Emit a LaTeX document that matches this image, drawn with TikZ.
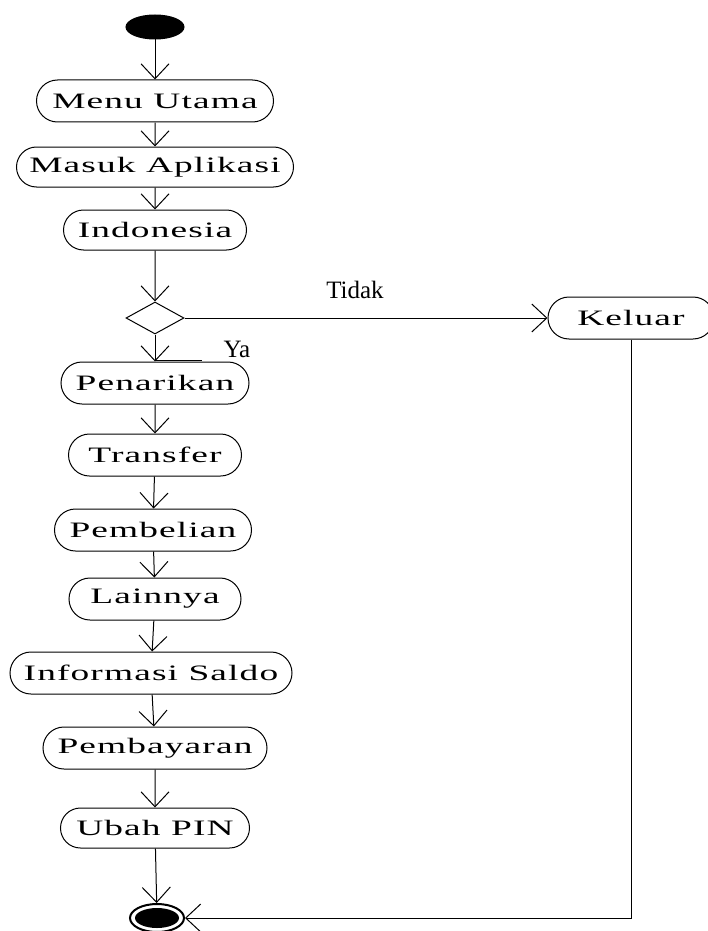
\documentclass[tikz,border=0pt]{standalone}
\usepackage{fontspec}
\setmainfont{Liberation Serif}
\newfontfamily\widefont[LetterSpace=3]{Liberation Serif}
\usetikzlibrary{shapes.misc,shapes.geometric,arrows.meta}
\newcommand\wt[1]{\scalebox{1.7}[1]{\widefont\fontsize{22}{26}\selectfont #1}}
\begin{document}
\begin{tikzpicture}[x=1pt,y=-1pt,
  line width=1pt,
  act/.style={draw, rounded rectangle, minimum height=42pt, inner sep=0pt},
  flow/.style={-{Straight Barb[length=15pt,width=28pt,line width=1pt]}},
  lbl/.style={font=\fontsize{25}{29}\selectfont, inner sep=0pt}]
\useasboundingbox (0,0) rectangle (708,931);
\node[draw, fill=black, ellipse, minimum width=58pt, minimum height=24pt, inner sep=0pt] (start) at (155,27) {};
\node[act, minimum width=237pt] (menu) at (155,101) {\wt{Menu Utama}};
\node[act, minimum width=277pt, minimum height=40pt] (masuk) at (155,167) {\wt{Masuk Aplikasi}};
\node[act, minimum width=183pt, minimum height=40pt] (indo) at (155,230) {\wt{Indonesia}};
\node[draw, diamond, minimum width=58pt, minimum height=32pt, inner sep=0pt] (dec) at (155,318) {};
\node[act, minimum width=166pt] (kel) at (631,318) {\wt{Keluar}};
\node[act, minimum width=188pt] (pen) at (155,383) {\wt{Penarikan}};
\node[act, minimum width=173pt] (tra) at (155,455) {\wt{Transfer}};
\node[act, minimum width=197pt] (pem) at (153,530) {\wt{Pembelian}};
\node[act, minimum width=172pt] (lai) at (155,599) {\wt{Lainnya}};
\node[act, minimum width=282pt] (inf) at (151,673) {\wt{Informasi Saldo}};
\node[act, minimum width=224pt] (bay) at (155,748) {\wt{Pembayaran}};
\node[act, minimum width=189pt, minimum height=40pt] (ubah) at (155,828) {\wt{Ubah PIN}};
\node[draw, fill=white, ellipse, line width=2pt, minimum width=54pt, minimum height=28pt, inner sep=0pt] (end) at (157,918) {};
\node[fill=black, ellipse, minimum width=44pt, minimum height=20pt, inner sep=0pt] (endin) at (157,918) {};
\coordinate (corner) at (631,918);
\node[lbl] (tidak) at (355,290) {Tidak};
\node[lbl] (ya) at (237,349) {Ya};

\draw[flow] (start) -- (menu);
\draw[flow] (menu) -- (masuk);
\draw[flow] (masuk) -- (indo);
\draw[flow] (indo) -- (dec.north);
\draw[flow] (dec.east) -- (kel.west);
\draw[flow] (dec.south) -- (pen.north);
\draw ([yshift=1pt]pen.north) -- ([xshift=47pt,yshift=1pt]pen.north);
\draw[flow] (pen) -- (tra);
\draw[flow] (tra) -- (pem);
\draw[flow] (pem) -- (lai);
\draw[flow] (lai) -- (inf);
\draw[flow] (inf) -- (bay);
\draw[flow] (bay) -- (ubah);
\draw[flow] (ubah) -- (end);
\draw[flow] (kel.south) -- (corner) -- (end.east);
\end{tikzpicture}
\end{document}
